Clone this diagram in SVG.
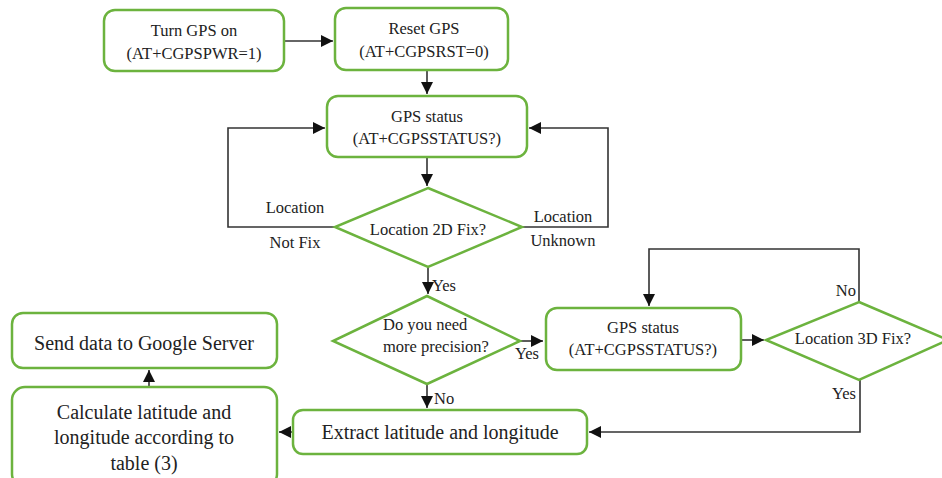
<svg xmlns="http://www.w3.org/2000/svg" width="942" height="478" viewBox="0 0 942 478">
<defs>
<marker id="ah" markerUnits="userSpaceOnUse" markerWidth="12" markerHeight="12" viewBox="0 0 12 12" refX="12" refY="6" orient="auto">
<path d="M0,0 L12,6 L0,12 z" fill="#111"/>
</marker>
</defs>
<style>
.box{fill:#fff;stroke:#6cb33e;stroke-width:2.5}
text{font-family:"Liberation Serif","Times New Roman","DejaVu Serif",serif;fill:#222}
.t{font-size:16.5px;text-anchor:middle}
.s{font-size:16.5px;text-anchor:start}
.e{font-size:16.5px;text-anchor:end}
.tl{font-size:20px;text-anchor:middle}
.c{fill:none;stroke:#333;stroke-width:1.6}
</style>
<rect width="942" height="478" fill="#fff"/>
<g id="connectors">
<path class="c" d="M284,41 H333" marker-end="url(#ah)"/>
<path class="c" d="M427,70 V94" marker-end="url(#ah)"/>
<path class="c" d="M427,158 V186" marker-end="url(#ah)"/>
<path class="c" d="M335,227 H228 V128 H325" marker-end="url(#ah)"/>
<path class="c" d="M522,227 H608 V128 H529" marker-end="url(#ah)"/>
<path class="c" d="M428,267 V294" marker-end="url(#ah)"/>
<path class="c" d="M520,341 H543" marker-end="url(#ah)"/>
<path class="c" d="M427,384 V408" marker-end="url(#ah)"/>
<path class="c" d="M741,340 H764" marker-end="url(#ah)"/>
<path class="c" d="M859,302 V249 H649 V306" marker-end="url(#ah)"/>
<path class="c" d="M860,380 V432 H589" marker-end="url(#ah)"/>
<path class="c" d="M293,432 H279" marker-end="url(#ah)"/>
<path class="c" d="M149,387 V370" marker-end="url(#ah)"/>
</g>
<g id="turn-gps-on">
<rect class="box" x="104" y="10" width="180" height="61" rx="11"/>
<text class="t" x="194" y="36">Turn GPS on</text>
<text class="t" x="194" y="59">(AT+CGPSPWR=1)</text>
</g>
<g id="reset-gps">
<rect class="box" x="335" y="8" width="173" height="62" rx="11"/>
<text class="t" x="424" y="34">Reset GPS</text>
<text class="t" x="424" y="57">(AT+CGPSRST=0)</text>
</g>
<g id="gps-status-1">
<rect class="box" x="327" y="96" width="200" height="61" rx="11"/>
<text class="t" x="427" y="122">GPS status</text>
<text class="t" x="427" y="144">(AT+CGPSSTATUS?)</text>
</g>
<g id="location-2d-fix">
<polygon class="box" points="428,188 522,227 428,267 335,227"/>
<text class="t" x="428" y="235">Location 2D Fix?</text>
<text class="t" x="295" y="213">Location</text>
<text class="t" x="295" y="248">Not Fix</text>
<text class="t" x="563" y="222">Location</text>
<text class="t" x="563" y="246">Unknown</text>
<text class="s" x="432" y="291">Yes</text>
</g>
<g id="more-precision">
<polygon class="box" points="427,296 520,341 427,384 333,341"/>
<text class="s" x="383" y="330">Do you need</text>
<text class="s" x="383" y="352">more precision?</text>
<text class="s" x="515" y="359">Yes</text>
<text class="s" x="434" y="404">No</text>
</g>
<g id="gps-status-2">
<rect class="box" x="546" y="308" width="195" height="62" rx="11"/>
<text class="t" x="643" y="333">GPS status</text>
<text class="t" x="643" y="355">(AT+CGPSSTATUS?)</text>
</g>
<g id="location-3d-fix">
<polygon class="box" points="859,302 948,340 859,380 766,340"/>
<text class="t" x="853" y="344">Location 3D Fix?</text>
<text class="e" x="856" y="296">No</text>
<text class="e" x="856" y="399">Yes</text>
</g>
<g id="extract">
<rect class="box" x="293" y="410" width="294" height="44" rx="10"/>
<text class="tl" x="440" y="439">Extract latitude and longitude</text>
</g>
<g id="send-data">
<rect class="box" x="12" y="313" width="265" height="55" rx="11"/>
<text class="tl" x="144" y="350">Send data to Google Server</text>
</g>
<g id="calculate">
<rect class="box" x="12" y="387" width="265" height="100" rx="13"/>
<text class="tl" x="144" y="419">Calculate latitude and</text>
<text class="tl" x="144" y="444">longitude according to</text>
<text class="tl" x="144" y="470">table (3)</text>
</g>
</svg>
